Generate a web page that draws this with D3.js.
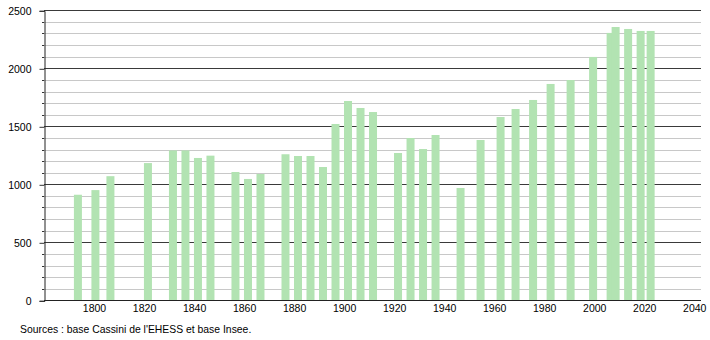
<!DOCTYPE html>
<html>
<head>
<meta charset="utf-8">
<script src="https://cdn.jsdelivr.net/npm/d3@7"></script>
<style>
  body { margin: 0; background: #fff; }
  text { font-family: "Liberation Sans", Arial, sans-serif; font-size: 10.5px; fill: #000; }
</style>
</head>
<body>
<div id="viz"></div>
<script>
// census years and population
var years = [1793, 1800, 1806, 1821, 1831, 1836, 1841, 1846, 1856, 1861, 1866,
  1876, 1881, 1886, 1891, 1896, 1901, 1906, 1911, 1921, 1926, 1931, 1936, 1946,
  1954, 1962, 1968, 1975, 1982, 1990, 1999, 2006, 2008, 2013, 2018, 2022];
var population = [910, 950, 1070, 1183, 1292, 1292, 1227, 1247, 1106, 1046, 1089,
  1259, 1244, 1244, 1149, 1520, 1718, 1658, 1623, 1270, 1399, 1304, 1425, 968,
  1382, 1580, 1649, 1727, 1865, 1899, 2098, 2305, 2356, 2339, 2322, 2322];
var xTicks = [1800, 1820, 1840, 1860, 1880, 1900, 1920, 1940, 1960, 1980, 2000, 2020, 2040];
var yTicks = [0, 500, 1000, 1500, 2000, 2500];
var source = "Sources : base Cassini de l'EHESS et base Insee.";

var width = 710, height = 340;
var plot = {left: 44, right: 701, top: 10.3, bottom: 300.3};

var svg = d3.select("#viz")
  .append("svg")
  .attr("width", width)
  .attr("height", height);

var xScale = d3.scaleLinear().domain([1780, 2042.7]).range([plot.left, plot.right]),
    yScale = d3.scaleLinear().domain([0, 2500]).range([plot.bottom, plot.top]);

// minor gridlines every 100
var minor = d3.range(100, 2500, 100).filter(d => d % 500 != 0);
svg.append("g")
  .selectAll("line")
  .data(minor)
  .enter().append("line")
  .attr("x1", plot.left).attr("x2", plot.right)
  .attr("y1", d => Math.round(yScale(d)) + 0.5)
  .attr("y2", d => Math.round(yScale(d)) + 0.5)
  .attr("stroke", "#c8c8c8");

// minor ticks
svg.append("g")
  .selectAll("line")
  .data(minor)
  .enter().append("line")
  .attr("x1", plot.left - 2).attr("x2", plot.left)
  .attr("y1", d => Math.round(yScale(d)) + 0.5)
  .attr("y2", d => Math.round(yScale(d)) + 0.5)
  .attr("stroke", "#333");

// major gridlines
svg.append("g")
  .selectAll("line")
  .data(yTicks.filter(d => d > 0))
  .enter().append("line")
  .attr("x1", plot.left).attr("x2", plot.right)
  .attr("y1", d => Math.round(yScale(d)) + 0.5)
  .attr("y2", d => Math.round(yScale(d)) + 0.5)
  .attr("stroke", "#3a3a3a");

// bars
svg.append("g")
  .selectAll("rect")
  .data(years)
  .enter().append("rect")
  .attr("x", d => xScale(d) - 2.6)
  .attr("width", 8)
  .attr("y", (d, i) => yScale(population[i]))
  .attr("height", (d, i) => yScale(0) - yScale(population[i]))
  .attr("fill", "#b2e3b2");

// y axis
var yAxis = d3.axisLeft(yScale).tickValues(yTicks).tickSize(5).tickPadding(8).tickFormat(d3.format("d"));
var gy = svg.append("g")
  .attr("transform", "translate(" + (plot.left + 0.5) + ",0.5)")
  .call(yAxis);
gy.select(".domain").attr("stroke", "#222");
gy.selectAll(".tick line").attr("stroke", "#333");
gy.selectAll("text").style("font-size", "10.5px").attr("fill", "#000");

// x axis
var xAxis = d3.axisBottom(xScale).tickValues(xTicks).tickSize(0).tickPadding(4).tickFormat(d3.format("d"));
var gx = svg.append("g")
  .attr("transform", "translate(0," + (Math.round(plot.bottom) + 0.5) + ")")
  .call(xAxis);
gx.select(".domain").attr("stroke", "#222").attr("d", "M" + plot.left + ",0H" + plot.right);
gx.selectAll("text").style("font-size", "10.5px").attr("fill", "#000");

// source
svg.append("text")
  .attr("x", 20)
  .attr("y", 333)
  .style("font-size", "10.4px")
  .text(source);
</script>
</body>
</html>
